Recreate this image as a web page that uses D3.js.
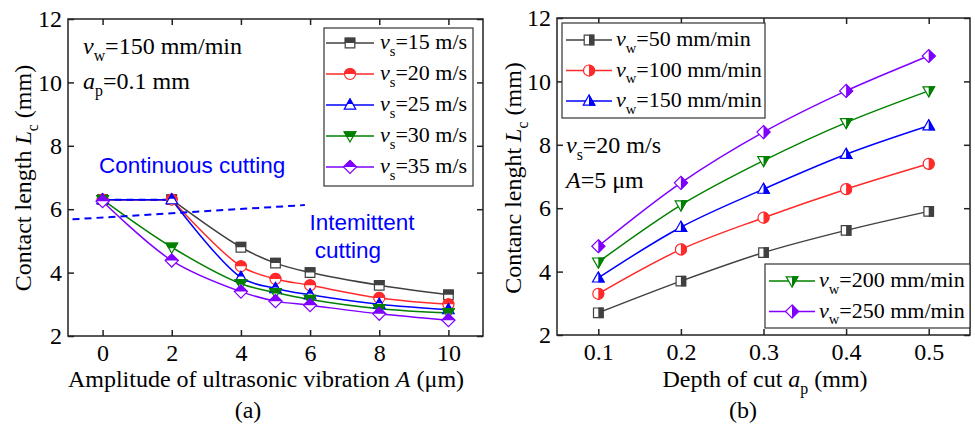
<!DOCTYPE html>
<html>
<head>
<meta charset="utf-8">
<script src="https://cdn.jsdelivr.net/npm/d3@7"></script>
<style>
  body { margin: 0; background: #fff; }
  svg { display: block; }
</style>
</head>
<body>
<svg id="chart" width="975" height="427"></svg>
<script>
// ---- Panel (a): contact length vs. ultrasonic amplitude ----
const amplitudeA = [0, 2, 4, 5, 6, 8, 10];
const lenVs15 = [6.3, 6.3, 4.8, 4.3, 4.0, 3.6, 3.3];
const lenVs20 = [6.3, 6.3, 4.2, 3.8, 3.6, 3.2, 3.0];
const lenVs25 = [6.3, 6.3, 3.85, 3.5, 3.3, 3.0, 2.83];
const lenVs30 = [6.3, 4.8, 3.65, 3.37, 3.15, 2.86, 2.73];
const lenVs35 = [6.25, 4.38, 3.4, 3.1, 2.97, 2.7, 2.5];
const labelsA = ["15", "20", "25", "30", "35"];
const ticksAx = [0, 2, 4, 6, 8, 10];
const ticksY = [2, 4, 6, 8, 10, 12];

// ---- Panel (b): contact length vs. depth of cut ----
const depthB = [0.1, 0.2, 0.3, 0.4, 0.5];
const lenVw50 = [2.7, 3.7, 4.6, 5.3, 5.9];
const lenVw100 = [3.3, 4.7, 5.7, 6.6, 7.4];
const lenVw150 = [3.8, 5.4, 6.6, 7.7, 8.6];
const lenVw200 = [4.3, 6.1, 7.5, 8.7, 9.7];
const lenVw250 = [4.8, 6.8, 8.4, 9.7, 10.8];
const labelsB = ["50", "100", "150", "200", "250"];
const ticksBx = [0.1, 0.2, 0.3, 0.4, 0.5];

const colors = ["#404040", "#ff2a2a", "#0000ff", "#008000", "#8000ff"];
const shapes = ["square", "circle", "up", "down", "diamond"];
const SERIF = "'Liberation Serif', 'DejaVu Serif', serif";
const SANS = "'Liberation Sans', Arial, sans-serif";
const FS = 24;      // ticks, titles, notes
const FS_LEG = 22;  // legend entries

const svg = d3.select("#chart");

// clip regions for half-filled markers
const defs = svg.append("defs");
defs.append("clipPath").attr("id", "halfTop").attr("clipPathUnits", "objectBoundingBox")
  .append("rect").attr("x", -0.1).attr("y", -0.1).attr("width", 1.2).attr("height", 0.6);
defs.append("clipPath").attr("id", "halfRight").attr("clipPathUnits", "objectBoundingBox")
  .append("rect").attr("x", 0.5).attr("y", -0.1).attr("width", 0.6).attr("height", 1.2);

function shapePath(kind) {
  const h = 4.8;
  switch (kind) {
    case "square": return `M${-h},${-h}H${h}V${h}H${-h}Z`;
    case "circle": { const r = 5.5; return `M${-r},0A${r},${r} 0 1,1 ${r},0A${r},${r} 0 1,1 ${-r},0Z`; }
    case "up": return `M0,${-h * 1.25}L${h * 1.2},${h * 0.85}L${-h * 1.2},${h * 0.85}Z`;
    case "down": return `M0,${h * 1.25}L${h * 1.2},${-h * 0.85}L${-h * 1.2},${-h * 0.85}Z`;
    case "diamond": return `M0,${-h * 1.35}L${h * 1.35},0L0,${h * 1.35}L${-h * 1.35},0Z`;
  }
}

function drawMarker(g, x, y, kind, color, clipId) {
  const m = g.append("g").attr("transform", `translate(${x},${y})`);
  m.append("path").attr("d", shapePath(kind)).attr("fill", "#fff")
    .attr("stroke", color).attr("stroke-width", 1.2);
  m.append("path").attr("d", shapePath(kind)).attr("fill", color)
    .attr("stroke", color).attr("stroke-width", 1.2)
    .attr("clip-path", `url(#${clipId})`);
}

function label(g, x, y, size) {
  return g.append("text").attr("x", x).attr("y", y)
    .style("font-family", SERIF).style("font-size", size + "px").style("fill", "#000");
}

// text with italic symbol + subscript, e.g. v_s=15 m/s
function richText(sel, parts, size) {
  parts.forEach(p => {
    const t = sel.append("tspan").text(p.t);
    if (p.i) t.style("font-style", "italic");
    if (p.sub) t.style("font-size", (size * 0.66) + "px").attr("dy", size * 0.3);
    if (p.up) t.attr("dy", -size * 0.3);
  });
  return sel;
}

function axes(g, x, y, xt, yt, xfmt) {
  const [x0, x1] = x.range(), [y0, y1] = y.range();
  const ax = g.append("g").attr("transform", `translate(0,${y0})`)
    .call(d3.axisBottom(x).tickValues(xt).tickSize(-6).tickSizeOuter(0).tickPadding(8).tickFormat(xfmt));
  const ay = g.append("g").attr("transform", `translate(${x0},0)`)
    .call(d3.axisLeft(y).tickValues(yt).tickSize(-6).tickSizeOuter(0).tickPadding(6).tickFormat(d3.format("d")));
  const at = g.append("g").attr("transform", `translate(0,${y1})`)
    .call(d3.axisTop(x).tickValues(xt).tickSize(-6).tickSizeOuter(0).tickFormat(""));
  const ar = g.append("g").attr("transform", `translate(${x1},0)`)
    .call(d3.axisRight(y).tickValues(yt).tickSize(-6).tickSizeOuter(0).tickFormat(""));
  [ax, ay, at, ar].forEach(a => {
    a.select(".domain").remove();
    a.selectAll(".tick line").attr("stroke", "#222").attr("stroke-width", 1.5);
    a.selectAll(".tick text").style("font-family", SERIF).style("font-size", FS + "px").style("fill", "#000");
  });
  g.append("rect").attr("x", x0).attr("y", y1).attr("width", x1 - x0).attr("height", y0 - y1)
    .attr("fill", "none").attr("stroke", "#222").attr("stroke-width", 1.5);
}

// series that hold a plateau are drawn straight across it, then smoothed
function drawSeries(g, xs, vals, sx, sy, color) {
  let k = 0;
  while (k + 1 < vals.length && vals[k + 1] === vals[k]) k++;
  const pts = xs.map((a, i) => [sx(a), sy(vals[i])]);
  if (k > 0) {
    g.append("path").attr("d", d3.line()(pts.slice(0, k + 1)))
      .attr("fill", "none").attr("stroke", color).attr("stroke-width", 1.5);
  }
  g.append("path").attr("d", d3.line().curve(d3.curveCatmullRom.alpha(0.5))(pts.slice(k)))
    .attr("fill", "none").attr("stroke", color).attr("stroke-width", 1.5);
}

// ================= Panel (a) =================
const gA = svg.append("g");
const xA = d3.scaleLinear().domain([-1, 11]).range([68, 483]);
const yA = d3.scaleLinear().domain([2, 12]).range([336, 19]);
const seriesA = [lenVs15, lenVs20, lenVs25, lenVs30, lenVs35];

seriesA.forEach((vals, i) => drawSeries(gA, amplitudeA, vals, xA, yA, colors[i]));
// regime boundary lines
const dashPts1 = [[0, 6.3], [2, 6.3]];
const dashPts2 = [[-0.87, 5.68], [5.85, 6.13]];
[dashPts1, dashPts2].forEach(p => {
  gA.append("path").attr("d", d3.line().x(d => xA(d[0])).y(d => yA(d[1]))(p))
    .attr("fill", "none").attr("stroke", "#0000ff").attr("stroke-width", 2).attr("stroke-dasharray", "7,5");
});
seriesA.forEach((vals, i) => {
  amplitudeA.forEach((a, k) => drawMarker(gA, xA(a), yA(vals[k]), shapes[i], colors[i], "halfTop"));
});
axes(gA, xA, yA, ticksAx, ticksY, d3.format("d"));

// legend (a)
const legA = gA.append("g");
legA.append("rect").attr("x", 324).attr("y", 28).attr("width", 149).attr("height", 158)
  .attr("fill", "#fff").attr("stroke", "#333").attr("stroke-width", 1.2);
labelsA.forEach((lab, i) => {
  const cy = 43 + i * 31;
  legA.append("line").attr("x1", 326).attr("x2", 374).attr("y1", cy).attr("y2", cy)
    .attr("stroke", colors[i]).attr("stroke-width", 1.5);
  drawMarker(legA, 350, cy, shapes[i], colors[i], "halfTop");
  richText(label(legA, 380, cy + 6, FS_LEG),
    [{ t: "v", i: true }, { t: "s", sub: true }, { t: `=${lab} m/s`, up: true }], FS_LEG);
});

// conditions (a)
richText(label(gA, 83, 54, FS), [{ t: "v", i: true }, { t: "w", sub: true }, { t: "=150 mm/min", up: true }], FS);
richText(label(gA, 83, 89, FS), [{ t: "a", i: true }, { t: "p", sub: true }, { t: "=0.1 mm", up: true }], FS);

// regime labels
function blueText(x, y, anchor, s) {
  gA.append("text").attr("x", x).attr("y", y).attr("text-anchor", anchor)
    .style("font-family", SANS).style("font-size", "22.5px").style("fill", "#0000ff").text(s);
}
blueText(99, 173, "start", "Continuous cutting");
blueText(362, 230, "middle", "Intemittent");
blueText(348, 258, "middle", "cutting");

// axis titles (a)
richText(label(gA, 0, 0, FS).attr("transform", "translate(31,178) rotate(-90)").attr("text-anchor", "middle"),
  [{ t: "Contact length " }, { t: "L", i: true }, { t: "c", sub: true }, { t: " (mm)", up: true }], FS);
richText(label(gA, 266, 387, FS).attr("text-anchor", "middle"),
  [{ t: "Amplitude of ultrasonic vibration " }, { t: "A", i: true }, { t: " (μm)" }], FS);
label(gA, 248, 418, FS).attr("text-anchor", "middle").text("(a)");

// ================= Panel (b) =================
const gB = svg.append("g");
const xB = d3.scaleLinear().domain([0.05, 0.55]).range([557, 970]);
const yB = d3.scaleLinear().domain([2, 12]).range([335, 18]);
const seriesB = [lenVw50, lenVw100, lenVw150, lenVw200, lenVw250];

seriesB.forEach((vals, i) => drawSeries(gB, depthB, vals, xB, yB, colors[i]));
seriesB.forEach((vals, i) => {
  depthB.forEach((a, k) => drawMarker(gB, xB(a), yB(vals[k]), shapes[i], colors[i], "halfRight"));
});
axes(gB, xB, yB, ticksBx, ticksY, d3.format(".1f"));

// legends (b)
function legendB(x, y, w, h, idx, lx0, lx1, tx) {
  const lg = gB.append("g");
  lg.append("rect").attr("x", x).attr("y", y).attr("width", w).attr("height", h)
    .attr("fill", "#fff").attr("stroke", "#333").attr("stroke-width", 1.2);
  idx.forEach((i, j) => {
    const cy = y + 17 + j * 30.5;
    lg.append("line").attr("x1", lx0).attr("x2", lx1).attr("y1", cy).attr("y2", cy)
      .attr("stroke", colors[i]).attr("stroke-width", 1.5);
    drawMarker(lg, (lx0 + lx1) / 2, cy, shapes[i], colors[i], "halfRight");
    richText(label(lg, tx, cy + 6, FS_LEG),
      [{ t: "v", i: true }, { t: "w", sub: true }, { t: `=${labelsB[i]} mm/min`, up: true }], FS_LEG);
  });
}
legendB(562, 23, 203, 95, [0, 1, 2], 566, 612, 616);
legendB(765, 264, 205, 64, [3, 4], 769, 815, 819);

// conditions (b)
richText(label(gB, 566, 153, FS), [{ t: "v", i: true }, { t: "s", sub: true }, { t: "=20 m/s", up: true }], FS);
richText(label(gB, 566, 188, FS), [{ t: "A", i: true }, { t: "=5 μm" }], FS);

// axis titles (b)
richText(label(gB, 0, 0, FS).attr("transform", "translate(521,178) rotate(-90)").attr("text-anchor", "middle"),
  [{ t: "Contanc lenght " }, { t: "L", i: true }, { t: "c", sub: true }, { t: " (mm)", up: true }], FS);
richText(label(gB, 765, 387, FS).attr("text-anchor", "middle"),
  [{ t: "Depth of cut " }, { t: "a", i: true }, { t: "p", sub: true }, { t: " (mm)", up: true }], FS);
label(gB, 743, 418, FS).attr("text-anchor", "middle").text("(b)");
</script>
</body>
</html>
